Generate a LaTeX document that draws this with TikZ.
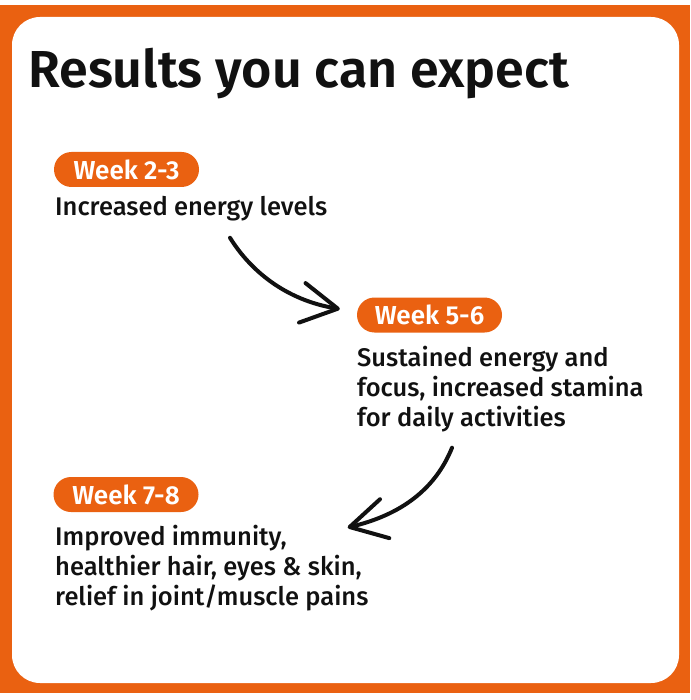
\documentclass[tikz,border=0pt]{standalone}
\usepackage{fontspec}
\setmainfont{Fira Sans}[UprightFont=* Medium, BoldFont=* SemiBold]
\usetikzlibrary{arrows.meta}
\definecolor{brandorange}{RGB}{234,97,17}
\definecolor{inkblack}{RGB}{17,17,17}

\begin{document}
\begin{tikzpicture}[x=1pt,y=-1pt,
    badge/.style={rectangle,rounded corners=17.5pt,fill=brandorange,text=white,minimum width=145pt,minimum height=35pt,inner sep=0pt,font=\fontsize{26}{28}\selectfont\bfseries},
    result/.style={anchor=base west,align=left,inner sep=0pt,text=inkblack,font=\fontsize{25.5}{30}\selectfont},
    curvy/.style={line width=4pt,line cap=round,inkblack,-{Straight Barb[length=36pt,width=40pt,line cap=round,line join=round]}}]
    % Frame
    \fill[white] (0,0) rectangle (690,700);
    \fill[brandorange] (0,5) rectangle (690,693);
    \fill[white,rounded corners=28pt] (12,17) rectangle (679,683);
    
    % Title
    \node[anchor=base west,inner sep=0pt,text=inkblack,font=\fontsize{52}{60}\selectfont\bfseries] (title) at (28,88) {Results you can expect};
    
    % Week 2-3
    \node[badge] (w23) at (126.5,169.5) {Week 2-3};
    \node[result] (t1) at (55,216) {Increased energy levels};
    
    % Week 5-6 (base is the last line)
    \node[badge] (w56) at (429.5,315) {Week 5-6};
    \node[result] (t2) at (357,426) {Sustained energy and\\focus, increased stamina\\for daily activities};
    
    % Week 7-8
    \node[badge] (w78) at (126,494.5) {Week 7-8};
    \node[result] (t3) at (55,605) {Improved immunity,\\healthier hair, eyes \& skin,\\relief in joint/muscle pains};
    
    % Arrows
    \draw[curvy] ([xshift=175pt,yshift=-16pt]t1.south west) .. controls (250,270) and (285,300) .. ([xshift=-17pt,yshift=6pt]w56.west);
    \draw[curvy] ([xshift=95pt,yshift=-16pt]t2.south west) .. controls (435,490) and (400,515) .. ([xshift=149pt,yshift=-33pt]w78.east);
\end{tikzpicture}
\end{document}
